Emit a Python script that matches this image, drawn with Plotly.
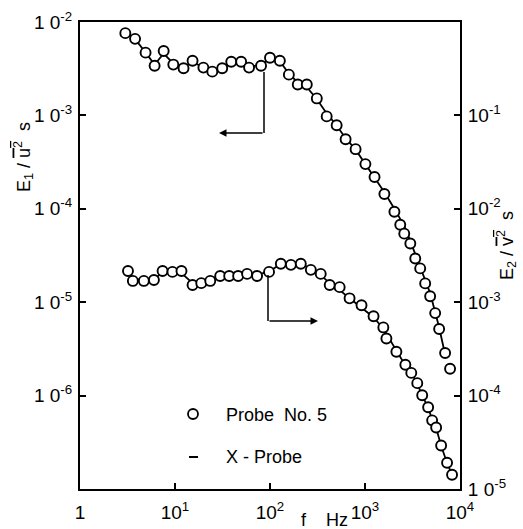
import plotly.graph_objects as go

# ---------------- data ----------------
# Upper curve: E1/u'^2 (left axis), Probe No. 5 (circles)
f_probe_upper = [3.0, 3.8, 4.9, 6.1, 7.6, 9.6, 12.3, 15.3, 19.9, 24.7,
                 31.4, 39.1, 49.7, 60.2, 80.5, 100, 127, 158, 196, 244,
                 311, 395, 503, 625, 796, 1010, 1260, 1600, 2040, 2350,
                 2590, 3000, 3380, 3810, 4300, 4850, 5480, 6030, 6970, 7860]
E1_probe = [7.6e-3, 6.6e-3, 4.7e-3, 3.4e-3, 4.9e-3, 3.5e-3, 3.2e-3, 3.85e-3, 3.25e-3, 2.94e-3,
            3.2e-3, 3.75e-3, 3.75e-3, 3.25e-3, 3.4e-3, 4.14e-3, 3.85e-3, 2.73e-3, 2.14e-3, 2.14e-3,
            1.52e-3, 9.76e-4, 7.83e-4, 5.56e-4, 4.35e-4, 3.01e-4, 2.19e-4, 1.44e-4, 9.3e-5, 6.76e-5,
            5.42e-5, 4.25e-5, 2.94e-5, 2.30e-5, 1.59e-5, 1.16e-5, 7.64e-6, 5.16e-6, 2.86e-6, 1.94e-6]

# Upper curve, X-Probe (line)
f_x_upper = [3.0, 3.8, 4.9, 6.1, 7.6, 9.6, 12.3, 15.3, 20, 25, 31, 39, 50, 60, 80,
             100, 127, 158, 196, 244, 311, 395, 503, 625, 796, 1010, 1260, 1600,
             2040, 2600, 3000, 3800, 4850, 6000, 7000]
E1_x = [7.6e-3, 6.6e-3, 4.7e-3, 3.5e-3, 4.6e-3, 3.6e-3, 3.3e-3, 3.7e-3, 3.3e-3, 3.0e-3,
        3.3e-3, 3.5e-3, 3.6e-3, 3.3e-3, 3.5e-3, 4.0e-3, 3.8e-3, 2.8e-3, 2.25e-3, 2.0e-3,
        1.5e-3, 1.05e-3, 7.8e-4, 5.7e-4, 4.3e-4, 3.0e-4, 2.2e-4, 1.5e-4, 1.0e-4, 6.5e-5,
        4.5e-5, 2.4e-5, 1.25e-5, 5.5e-6, 2.7e-6]

# Lower curve: E2/v'^2 (right axis), Probe No. 5 (circles)
f_probe_lower = [3.2, 3.6, 4.7, 6.0, 7.4, 9.4, 11.7, 15.3, 18.9, 23.5,
                 29.9, 37.2, 46.2, 57.4, 73.1, 97.7, 130, 166, 211, 269,
                 342, 425, 541, 688, 919, 1230, 1560, 1680, 2140, 2660,
                 3070, 3550, 4000, 4620, 5090, 5610, 6330, 7310, 8250]
E2_probe = [2.16e-3, 1.69e-3, 1.69e-3, 1.73e-3, 2.16e-3, 2.11e-3, 2.16e-3, 1.53e-3, 1.60e-3, 1.69e-3,
            1.91e-3, 1.91e-3, 1.91e-3, 2.01e-3, 1.91e-3, 2.11e-3, 2.58e-3, 2.51e-3, 2.58e-3, 2.22e-3,
            2.01e-3, 1.53e-3, 1.45e-3, 1.10e-3, 9.29e-4, 7.06e-4, 5.37e-4, 4.08e-4, 2.95e-4, 2.14e-4,
            1.75e-4, 1.36e-4, 1.01e-4, 7.51e-5, 5.43e-5, 4.56e-5, 2.92e-5, 1.91e-5, 1.42e-5]

# Lower curve, X-Probe (line)
f_x_lower = [3.2, 3.6, 4.7, 6.0, 7.4, 9.4, 11.7, 15.3, 19, 23.5, 30, 37, 46, 57, 73,
             98, 130, 166, 211, 269, 342, 425, 541, 688, 919, 1230, 1560, 2140, 2660,
             3070, 3550, 4000, 4620, 5090, 5610, 6330, 7310, 8250]
E2_x = [2.2e-3, 1.75e-3, 1.75e-3, 1.75e-3, 2.1e-3, 2.1e-3, 2.05e-3, 1.6e-3, 1.6e-3, 1.75e-3,
        1.95e-3, 2.0e-3, 2.12e-3, 2.05e-3, 1.95e-3, 2.15e-3, 2.55e-3, 2.55e-3, 2.55e-3, 2.3e-3,
        1.95e-3, 1.6e-3, 1.35e-3, 1.1e-3, 8.8e-4, 6.9e-4, 5.2e-4, 3.0e-4, 2.1e-4,
        1.75e-4, 1.35e-4, 1.0e-4, 7.5e-5, 5.5e-5, 4.5e-5, 2.9e-5, 1.9e-5, 1.42e-5]

x_tickvals = [1, 10, 100, 1000, 10000]
x_ticktext = ["1", "10<sup>1</sup>", "10<sup>2</sup>", "10<sup>3</sup>", "10<sup>4</sup>"]
yl_tickvals = [1e-2, 1e-3, 1e-4, 1e-5, 1e-6]
yl_ticktext = ["1 0<sup>-2</sup>", "1 0<sup>-3</sup>", "1 0<sup>-4</sup>", "1 0<sup>-5</sup>", "1 0<sup>-6</sup>"]
yr_tickvals = [1e-1, 1e-2, 1e-3, 1e-4, 1e-5]
yr_ticktext = ["10<sup>-1</sup>", "10<sup>-2</sup>", "10<sup>-3</sup>", "10<sup>-4</sup>", "1 0<sup>-5</sup>"]

# ---------------- figure ----------------
FONT = "Liberation Sans, Arial, sans-serif"
W, H = 523, 529
ML, MR, MT, MB = 80, 63, 22, 40
PW, PH = W - ML - MR, H - MT - MB

def px(x):
    return (x - ML) / PW

def py(y):
    return (H - MB - y) / PH

line_style = dict(color="black", width=1.8)
marker_style = dict(symbol="circle", size=10, color="white",
                    line=dict(color="black", width=1.9))

fig = go.Figure()
fig.add_trace(go.Scatter(x=f_x_upper, y=E1_x, mode="lines", line=line_style,
                         name="X - Probe", showlegend=False, yaxis="y"))
fig.add_trace(go.Scatter(x=f_x_lower, y=E2_x, mode="lines", line=line_style,
                         name="X - Probe", showlegend=False, yaxis="y2"))
fig.add_trace(go.Scatter(x=f_probe_upper, y=E1_probe, mode="markers", marker=marker_style,
                         name="Probe No. 5", showlegend=False, yaxis="y"))
fig.add_trace(go.Scatter(x=f_probe_lower, y=E2_probe, mode="markers", marker=marker_style,
                         name="Probe No. 5", showlegend=False, yaxis="y2"))

axis_common = dict(showgrid=False, zeroline=False, showline=True, linecolor="black",
                   linewidth=2, ticks="inside", ticklen=6, tickwidth=1.5, tickcolor="black",
                   automargin=False,
                   tickfont=dict(family=FONT, size=19, color="black"))

fig.update_layout(
    width=W, height=H,
    margin=dict(l=ML, r=MR, t=MT, b=MB),
    paper_bgcolor="white", plot_bgcolor="white",
    showlegend=False,
    xaxis=dict(type="log", range=[0, 4], tickvals=x_tickvals, ticktext=x_ticktext,
               mirror=True, ticklabelstandoff=5, **axis_common),
    yaxis=dict(type="log", range=[-7, -2], tickvals=yl_tickvals, ticktext=yl_ticktext,
               ticklabelstandoff=2, **axis_common),
    yaxis2=dict(type="log", range=[-5, 0], tickvals=yr_tickvals, ticktext=yr_ticktext,
                overlaying="y", side="right", ticklabelstandoff=2, **axis_common),
)

ann_font = dict(family=FONT, size=18, color="black")
annotations = [
    dict(text="E<sub>1</sub> / <span style='text-decoration:overline'>u<sup>2</sup></span>  s",
         xref="paper", yref="paper", x=px(24), y=py(157), xanchor="center", yanchor="middle",
         textangle=-90, showarrow=False, font=ann_font),
    dict(text="E<sub>2</sub> / <span style='text-decoration:overline'>v<sup>2</sup></span>  s",
         xref="paper", yref="paper", x=px(507), y=py(246), xanchor="center", yanchor="middle",
         textangle=-90, showarrow=False, font=ann_font),
    dict(text="f    Hz", xref="paper", yref="paper", x=px(299), y=py(520),
         xanchor="left", yanchor="middle", showarrow=False, font=ann_font),
    # arrows
    dict(x=px(219), y=py(133), xref="paper", yref="paper", ax=45, ay=0,
         showarrow=True, arrowhead=2, arrowsize=1, arrowwidth=1.5, arrowcolor="black", text=""),
    dict(x=px(318), y=py(321), xref="paper", yref="paper", ax=-50, ay=0,
         showarrow=True, arrowhead=2, arrowsize=1, arrowwidth=1.5, arrowcolor="black", text=""),
    # legend texts
    dict(text="Probe  No. 5", xref="paper", yref="paper", x=px(224), y=py(415),
         xanchor="left", yanchor="middle", showarrow=False, font=ann_font),
    dict(text="X - Probe", xref="paper", yref="paper", x=px(224), y=py(457),
         xanchor="left", yanchor="middle", showarrow=False, font=ann_font),
]
fig.update_layout(annotations=annotations)

shapes = [
    dict(type="line", xref="paper", yref="paper", x0=px(264), x1=px(264), y0=py(72), y1=py(133),
         line=dict(color="black", width=1.5)),
    dict(type="line", xref="paper", yref="paper", x0=px(268), x1=px(268), y0=py(275), y1=py(321),
         line=dict(color="black", width=1.5)),
    # legend symbols
    dict(type="circle", xref="paper", yref="paper", xsizemode="pixel", ysizemode="pixel",
         xanchor=px(193), yanchor=py(414), x0=-5, x1=5, y0=-5, y1=5,
         line=dict(color="black", width=1.8), fillcolor="white"),
    dict(type="line", xref="paper", yref="paper", x0=px(189), x1=px(198), y0=py(457), y1=py(457),
         line=dict(color="black", width=2)),
]
fig.update_layout(shapes=shapes)

fig.write_html("out.html")
